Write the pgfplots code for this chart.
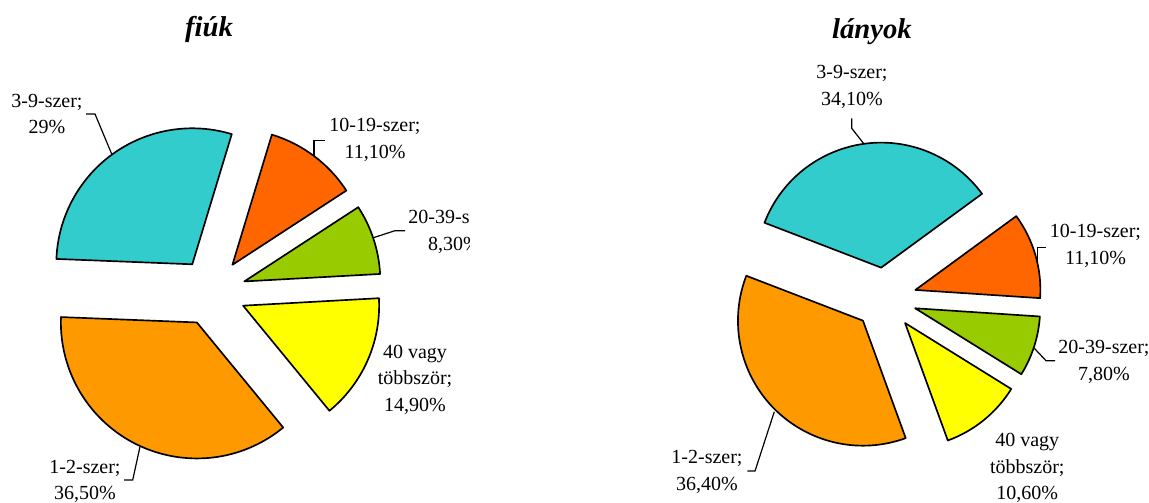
\documentclass[border=0pt]{standalone}
\usepackage{fontspec}
\setmainfont{Liberation Serif}
\usepackage{pgfplots}
\usepackage{pgfplotstable}
\pgfplotsset{compat=1.18}

\definecolor{c12}{HTML}{FF9900}
\definecolor{c39}{HTML}{33CCCC}
\definecolor{c1019}{HTML}{FF6600}
\definecolor{c2039}{HTML}{99CC00}
\definecolor{c40}{HTML}{FFFF00}

% share of each answer, in the order Excel lays them out (clockwise)
\pgfplotstableread{
value color
36.5  c12
29.0  c39
11.1  c1019
8.3   c2039
14.9  c40
}\fiuk
\pgfplotstableread{
value color
36.4  c12
34.1  c39
11.1  c1019
7.8   c2039
10.6  c40
}\lanyok

% \pie{table}{cx}{cy}{radius}{explode}{start angle}, slices go clockwise
\newcommand\pie[6]{%
  \pgfmathsetmacro\piesum{0}%
  \pgfplotstablegetrowsof{#1}\pgfmathtruncatemacro\pien{\pgfplotsretval-1}%
  \pgfplotsforeachungrouped \i in {0,...,\pien}{%
    \pgfplotstablegetelem{\i}{value}\of{#1}%
    \pgfmathsetmacro\piesum{\piesum+\pgfplotsretval}%
  }%
  \pgfmathsetmacro\piea{#6}%
  \pgfplotsforeachungrouped \i in {0,...,\pien}{%
    \pgfplotstablegetelem{\i}{value}\of{#1}%
    \pgfmathsetmacro\pieb{\piea-360*\pgfplotsretval/\piesum}%
    \pgfmathsetmacro\piem{(\piea+\pieb)/2}%
    \pgfplotstablegetelem{\i}{color}\of{#1}%
    \edef\piecmd{\noexpand\path[fill=\pgfplotsretval, draw=black, line width=1.25pt, line join=round]
      ([shift={(\piem:#5)}]axis cs:#2,#3) -- ++(\piea:#4)
      arc[start angle=\piea, end angle=\pieb, radius=#4] -- cycle;}%
    \piecmd
    \let\piea\pieb
  }%
}

\begin{document}
\begin{tikzpicture}
\begin{axis}[
    hide axis,
    x=0.75pt, y=0.75pt,
    xmin=0, xmax=1149,
    ymin=0, ymax=503,
    clip=false,
]
\coordinate (BL) at (0,0);
\coordinate (TR) at (1149,503);

\pie{\fiuk}{212}{211}{102pt}{25.5pt}{-50.6}
\pie{\lanyok}{885.3}{204.3}{93.75pt}{23.5pt}{-70}

\node[font=\fontsize{21.5}{25}\selectfont\bfseries\itshape] at (209,474) {fiúk};
\node[font=\fontsize{21.5}{25}\selectfont\bfseries\itshape] at (872,471.5) {lányok};

% fiúk labels
\tikzset{lbl/.style={align=center, font=\fontsize{15}{19.9}\selectfont}}
\node[lbl] at (85,21.5) {1-2-szer;\\36,50\%};
\node[lbl] at (47,389.2) {3-9-szer;\\29\%};
\node[lbl] at (375,363.2) {10-19-szer;\\11,10\%};
\begin{scope}
  \clip (0,0) rectangle (469,503);
  \node[lbl] at (454,271) {20-39-szer;\\8,30\%};
\end{scope}
\node[lbl] at (415,123.5) {40 vagy\\többször;\\14,90\%};
\draw[line width=0.9pt] (140,56.3) -- (132.7,23) -- (124,23);
\draw[line width=0.9pt] (86,389) -- (95,389) -- (111.7,349);
\draw[line width=0.9pt] (314,347) -- (314,362.3) -- (325,362.3);
\draw[line width=0.9pt] (374,265.5) -- (395,272.3) -- (405,272.3);

% lányok labels
\node[lbl] at (707,31) {1-2-szer;\\36,40\%};
\node[lbl] at (852,416.3) {3-9-szer;\\34,10\%};
\node[lbl] at (1095.5,257) {10-19-szer;\\11,10\%};
\node[lbl] at (1104,141.3) {20-39-szer;\\7,80\%};
\node[lbl] at (1027.3,34.7) {40 vagy\\többször;\\10,60\%};
\draw[line width=0.9pt] (774.3,91.3) -- (755,32) -- (747.3,32);
\draw[line width=0.9pt] (851.7,384.7) -- (851.7,374.7) -- (864,359);
\draw[line width=0.9pt] (1037.7,236.3) -- (1037.7,255.7) -- (1046,255.7);
\draw[line width=0.9pt] (1034.3,154.7) -- (1046,142.3) -- (1055,142.3);
\end{axis}
\pgfresetboundingbox
\path[use as bounding box] (BL) rectangle (TR);
\end{tikzpicture}
\end{document}
